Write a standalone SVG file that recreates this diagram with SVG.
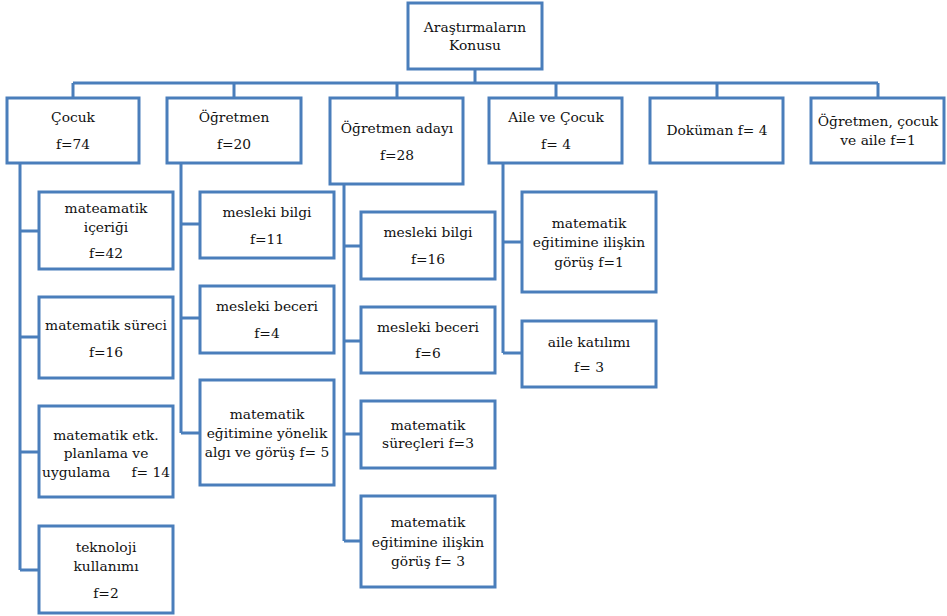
<svg xmlns="http://www.w3.org/2000/svg" width="947" height="616" viewBox="0 0 947 616">
<style>
rect{fill:#fff;stroke:#4A7EBB;stroke-width:3}
.c path{fill:none;stroke:#4A7EBB;stroke-width:3}
text{font-family:"DejaVu Serif","Liberation Serif",serif;font-size:13.8px;fill:#111;text-anchor:middle;dominant-baseline:central}
</style>
<rect x="0" y="0" width="947" height="616" style="stroke:none"/>
<g class="c" id="connectors">
<path d="M475 69V83M73 83H878M73 83V98M234 83V98M397 83V98M556 83V98M717 83V98M878 83V98"/>
<path d="M20 163V570M20 231H39M20 337H39M20 452H39M20 570H39"/>
<path d="M181 163V433M181 224H200M181 318H200M181 433H200"/>
<path d="M344 184V541M344 246H361M344 341H361M344 434H361M344 541H361"/>
<path d="M503 163V353M503 242H522M503 353H522"/>
</g>
<g id="root"><rect x="408" y="3" width="134" height="66"/><text x="475" y="27">Araştırmaların</text><text x="475" y="45">Konusu</text></g>
<g id="cocuk"><rect x="7" y="98" width="132" height="65"/><text x="73" y="117">Çocuk</text><text x="73" y="144">f=74</text></g>
<g id="ogretmen"><rect x="167" y="98" width="134" height="65"/><text x="234" y="117">Öğretmen</text><text x="234" y="144">f=20</text></g>
<g id="aday"><rect x="330" y="98" width="133" height="86"/><text x="397" y="128">Öğretmen adayı</text><text x="397" y="155">f=28</text></g>
<g id="aile"><rect x="489" y="98" width="133" height="65"/><text x="556" y="117">Aile ve Çocuk</text><text x="556" y="144">f= 4</text></g>
<g id="dokuman"><rect x="650" y="98" width="133" height="65"/><text x="717" y="130">Doküman f= 4</text></g>
<g id="oca"><rect x="811" y="98" width="133" height="65"/><text x="878" y="121">Öğretmen, çocuk</text><text x="878" y="140">ve aile  f=1</text></g>
<g id="c1"><rect x="39" y="192" width="134" height="77"/><text x="106" y="208">mateamatik</text><text x="106" y="227">içeriği</text><text x="106" y="253">f=42</text></g>
<g id="c2"><rect x="39" y="297" width="134" height="81"/><text x="106" y="325">matematik süreci</text><text x="106" y="352">f=16</text></g>
<g id="c3"><rect x="39" y="406" width="134" height="91"/><text x="106" y="435">matematik etk.</text><text x="106" y="453">planlama ve</text><text x="42" y="472" style="text-anchor:start">uygulama</text><text x="170" y="472" style="text-anchor:end">f= 14</text></g>
<g id="c4"><rect x="39" y="526" width="134" height="87"/><text x="106" y="547">teknoloji</text><text x="106" y="566">kullanımı</text><text x="106" y="593">f=2</text></g>
<g id="o1"><rect x="200" y="192" width="134" height="66"/><text x="267" y="212">mesleki bilgi</text><text x="267" y="239">f=11</text></g>
<g id="o2"><rect x="200" y="286" width="134" height="67"/><text x="267" y="306">mesleki beceri</text><text x="267" y="333">f=4</text></g>
<g id="o3"><rect x="200" y="380" width="134" height="105"/><text x="267" y="414">matematik</text><text x="267" y="433">eğitimine yönelik</text><text x="267" y="452">algı ve görüş f= 5</text></g>
<g id="a1"><rect x="361" y="212" width="134" height="67"/><text x="428" y="232">mesleki bilgi</text><text x="428" y="259">f=16</text></g>
<g id="a2"><rect x="361" y="307" width="134" height="66"/><text x="428" y="327">mesleki beceri</text><text x="428" y="353">f=6</text></g>
<g id="a3"><rect x="361" y="401" width="134" height="67"/><text x="428" y="425">matematik</text><text x="428" y="443">süreçleri f=3</text></g>
<g id="a4"><rect x="361" y="496" width="134" height="91"/><text x="428" y="522">matematik</text><text x="428" y="542">eğitimine ilişkin</text><text x="428" y="561">görüş  f= 3</text></g>
<g id="f1"><rect x="522" y="192" width="134" height="100"/><text x="589" y="223">matematik</text><text x="589" y="242">eğitimine ilişkin</text><text x="589" y="262">görüş f=1</text></g>
<g id="f2"><rect x="522" y="321" width="134" height="66"/><text x="589" y="342">aile katılımı</text><text x="589" y="367">f= 3</text></g>
</svg>
